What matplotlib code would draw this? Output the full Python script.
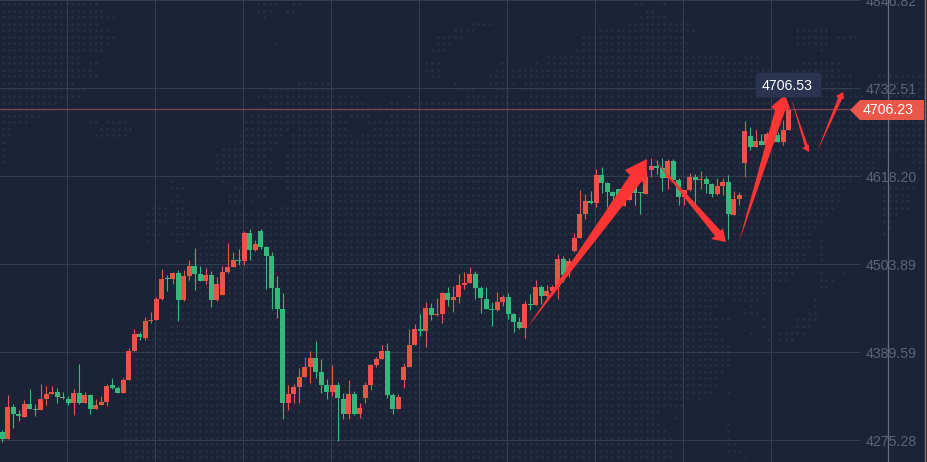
import matplotlib
matplotlib.use("Agg")
import matplotlib.pyplot as plt
import matplotlib.transforms as mtransforms
from matplotlib.patches import Polygon, FancyBboxPatch

plt.rcParams['font.family'] = ['Liberation Sans', 'DejaVu Sans']

# price data, one entry per candle
OPEN = [4286.0,4276.9,4318.5,4309.4,4305.5,4322.4,4315.9,4314.6,4328.9,4335.4,4338.0,4331.5,4328.9,4323.7,4336.7,4323.7,
        4334.1,4315.9,4321.1,4325.0,4347.1,4343.2,4336.7,4353.6,4391.2,4413.3,4408.1,4430.2,4431.5,4458.8,4486.1,4484.8,
        4492.6,4457.5,4488.7,4501.6,4491.3,4482.2,4490.0,4457.5,4464.0,4493.9,4500.3,4509.4,4508.1,4544.5,4522.4,4547.1,
        4526.3,4514.6,4473.1,4445.8,4323.7,4335.4,4344.5,4357.5,4370.4,4382.1,4364.0,4347.1,4338.0,4347.1,4328.9,4309.4,
        4335.4,4309.4,4330.2,4347.1,4373.0,4380.8,4391.2,4334.1,4315.9,4353.6,4370.4,4399.0,4419.8,4417.2,4447.1,4438.0,
        4439.3,4466.6,4457.5,4461.4,4477.0,4479.6,4491.3,4473.1,4458.8,4445.8,4444.5,4454.9,4461.4,4439.3,4428.9,4421.1,
        4452.3,4451.0,4474.4,4462.7,4469.2,4474.4,4510.8,4494.3,4521.2,4538.1,4569.2,4586.1,4583.5,4619.9,4609.5,4597.8,
        4601.3,4579.6,4587.4,4606.9,4597.8,4595.2,4626.4,4631.6,4629.0,4616.0,4638.1,4613.4,4591.3,4600.4,4617.3,4613.8,
        4614.7,4608.2,4595.2,4605.6,4610.8,4567.9,4588.7,4635.5,4670.6,4656.3,4664.1,4658.9,4662.8,4671.9,4662.8,4678.4]
CLOSE = [4276.9,4318.5,4309.4,4306.8,4322.4,4315.9,4314.6,4328.9,4335.4,4338.0,4331.5,4330.2,4323.7,4336.7,4323.7,4334.1,
         4315.9,4321.1,4325.0,4345.8,4343.2,4336.7,4353.6,4391.2,4413.3,4409.4,4430.2,4431.5,4458.8,4484.8,4484.8,4492.6,
         4457.5,4488.7,4501.6,4491.3,4482.2,4490.0,4457.5,4478.3,4493.9,4500.3,4509.4,4508.1,4544.5,4522.4,4530.2,4526.3,
         4514.6,4473.1,4445.8,4323.7,4335.4,4344.5,4357.5,4370.4,4382.1,4364.0,4347.1,4338.0,4347.1,4330.2,4309.4,4335.4,
         4309.4,4317.2,4347.1,4373.0,4380.8,4391.2,4334.1,4315.9,4331.5,4370.4,4399.0,4419.8,4417.2,4447.1,4438.0,4439.3,
         4466.6,4457.5,4461.4,4477.0,4479.6,4491.3,4473.1,4460.1,4445.8,4444.5,4454.9,4461.4,4439.3,4428.9,4421.1,4452.3,
         4451.0,4474.4,4462.7,4469.2,4474.4,4510.7,4490.0,4508.2,4538.1,4569.2,4586.1,4583.5,4619.9,4609.5,4597.8,4592.6,
         4592.6,4591.8,4606.9,4596.5,4596.5,4617.7,4631.6,4629.0,4616.0,4638.1,4613.4,4591.3,4600.4,4617.3,4613.4,4614.7,
         4608.2,4595.2,4605.6,4610.8,4569.2,4588.7,4593.9,4677.1,4656.3,4664.1,4658.9,4673.2,4673.2,4662.8,4678.4,4706.23]
HIGH = [4288.6,4334.1,4322.4,4314.2,4327.1,4341.9,4322.4,4348.4,4345.8,4345.8,4343.2,4338.0,4332.8,4341.9,4374.3,4338.0,
        4335.4,4328.9,4332.8,4348.4,4356.2,4345.8,4356.2,4395.1,4419.8,4415.9,4435.4,4441.9,4461.4,4497.7,4490.0,4493.9,
        4496.4,4496.4,4509.4,4525.0,4501.6,4499.0,4495.2,4487.4,4501.6,4531.5,4519.8,4523.7,4547.1,4549.7,4535.4,4549.7,
        4527.6,4519.8,4488.7,4466.6,4347.1,4348.4,4369.1,4383.4,4391.2,4404.2,4380.8,4354.9,4373.0,4351.0,4336.7,4353.6,
        4339.3,4323.7,4351.0,4374.3,4383.4,4399.0,4401.6,4336.7,4335.4,4375.6,4419.8,4426.3,4439.3,4454.9,4453.6,4460.1,
        4467.9,4474.4,4475.7,4491.3,4493.9,4500.3,4495.2,4475.7,4474.4,4454.9,4467.9,4464.0,4466.6,4440.6,4435.4,4456.2,
        4465.3,4483.5,4477.0,4477.0,4477.0,4517.2,4514.7,4511.7,4544.1,4600.4,4595.2,4599.1,4627.7,4630.3,4610.8,4599.1,
        4601.3,4601.3,4613.4,4613.4,4597.8,4626.4,4642.0,4639.4,4642.0,4640.7,4640.7,4616.0,4600.4,4622.5,4621.2,4625.1,
        4618.6,4609.5,4616.0,4616.0,4619.9,4599.1,4597.8,4690.1,4682.3,4678.4,4673.2,4675.8,4675.8,4675.8,4691.3,4706.53]
LOW = [4273.5,4276.9,4291.2,4300.3,4305.5,4315.9,4306.8,4314.6,4321.1,4335.4,4323.7,4328.9,4321.1,4308.1,4322.4,4323.7,
       4309.4,4315.9,4321.1,4319.8,4341.9,4336.7,4336.7,4353.6,4391.2,4405.5,4405.5,4427.6,4431.5,4457.5,4469.2,4478.3,
       4430.2,4456.2,4483.5,4470.5,4482.2,4478.3,4448.4,4456.2,4464.0,4492.6,4500.3,4502.9,4502.9,4509.4,4521.1,4523.7,
       4471.8,4445.8,4434.1,4302.9,4314.6,4323.7,4323.7,4357.5,4349.7,4356.2,4336.7,4328.9,4332.8,4274.3,4302.9,4302.9,
       4308.1,4304.2,4323.7,4340.6,4370.4,4380.8,4330.2,4309.4,4315.9,4343.2,4370.4,4399.0,4410.7,4396.4,4431.5,4436.7,
       4427.6,4449.7,4441.9,4453.6,4471.8,4479.6,4458.8,4440.6,4445.8,4423.7,4443.2,4449.7,4432.8,4415.9,4419.8,4408.1,
       4444.5,4451.0,4452.3,4457.5,4464.0,4458.8,4481.3,4487.8,4520.3,4537.6,4562.7,4582.2,4578.3,4596.1,4577.9,4578.8,
       4574.4,4579.6,4587.4,4580.9,4569.2,4595.2,4617.7,4621.2,4599.1,4601.7,4613.4,4580.9,4580.9,4599.1,4582.2,4601.7,
       4596.5,4591.3,4593.9,4593.9,4536.8,4567.9,4580.9,4617.3,4652.4,4656.3,4658.9,4658.9,4658.9,4662.8,4658.9,4678.4]

PRICE_TICKS = [4846.82, 4732.51, 4618.20, 4503.89, 4389.59, 4275.28]
LAST_PRICE = 4706.23
MAX_PRICE = 4706.53

# faint world map behind the chart: dot row -> x spans in pixels
MAP_ROWS = [
    [(0,97),(260,275),(290,297),(635,640),(665,665)],
    [(0,100),(260,272),(288,295),(648,655)],
    [(0,112),(265,265),(640,665)],
    [(0,97),(475,490),(628,690)],
    [(0,107),(455,475),(600,695),(800,825)],
    [(0,112),(440,460),(580,680),(800,825),(840,855)],
    [(0,107),(277,277),(440,450),(580,688),(800,825)],
    [(0,102),(430,443),(575,685),(818,818)],
    [(0,80),(505,505),(550,720),(743,757)],
    [(0,80),(88,95),(425,435),(500,510),(535,535),(550,757),(805,835)],
    [(0,90),(425,437),(495,512),(520,770),(790,840)],
    [(0,97),(430,437),(490,512),(520,760),(800,850),(880,925)],
    [(0,75),(300,330),(455,455),(490,512),(522,760),(825,850),(880,925)],
    [(0,85),(272,335),(460,470),(495,510),(525,850),(880,925)],
    [(0,78),(258,355),(408,408),(465,485),(497,510),(528,528),(535,860),(885,925)],
    [(0,55),(270,365),(390,398),(412,925)],
    [(0,45),(255,925)],
    [(0,38),(253,340),(350,368),(390,925)],
    [(0,28),(88,95),(105,123),(247,345),(370,925)],
    [(0,8),(100,130),(247,285),(300,345),(372,925)],
    [(0,8),(98,123),(242,283),(295,350),(360,925)],
    [(0,3),(240,278),(290,925)],
    [(0,3),(225,270),(290,925)],
    [(0,3),(220,265),(288,885),(900,925)],
    [(0,3),(220,270),(288,873),(915,925)],
    [(220,272),(288,873),(920,920)],
    [(222,272),(288,860)],
    [(172,172),(225,225),(247,265),(288,850)],
    [(168,180),(235,240),(247,265),(288,845),(885,912)],
    [(175,175),(230,235),(255,265),(290,840),(882,910)],
    [(168,180),(230,240),(253,253),(290,835),(882,908)],
    [(155,165),(178,185),(270,270),(282,830),(882,907)],
    [(150,163),(178,190),(225,825),(882,895)],
    [(150,163),(178,195),(213,820),(882,888)],
    [(150,150),(175,195),(213,815),(888,888)],
    [(150,160),(173,190),(198,810),(882,882)],
    [(150,150),(178,185),(205,808),(820,820)],
    [(198,808),(820,820)],
    [(195,805),(820,820)],
    [(193,803),(820,820)],
    [(193,798)],
    [(190,792),(820,820),(842,842)],
    [(190,785),(818,832)],
    [(197,765),(818,825)],
    [(197,765)],
    [(190,722),(732,757),(813,813)],
    [(170,718),(750,750),(813,813)],
    [(168,712),(745,757),(808,813)],
    [(168,725),(760,765),(797,813)],
    [(168,718),(760,765),(797,808)],
    [(150,718),(752,752),(780,803)],
    [(150,722),(768,768),(778,793)],
    [(150,725)],
    [(138,728),(768,768)],
    [(138,728)],
    [(138,728)],
    [(125,722)],
    [(125,718)],
    [(125,717)],
    [(125,712),(728,728)],
    [(122,690),(700,700)],
    [(122,682)],
    [(122,660)],
    [(122,655),(677,677)],
    [(122,660),(728,728)],
    [(122,665),(728,728)],
    [(122,672),(725,730)],
    [(122,672),(728,735)],
    [(122,672),(728,740)],
    [(122,670),(745,745)],
]

# hand drawn red arrows, in pixels: tail, notch, barb, tip, barb, notch
ARROWS = [
    [(527,328),(630,175),(625,170),(647,159),(646,186),(642,181)],
    [(653,158),(715,236),(711,239),(726,242),(723,228),(721,231)],
    [(739,242),(775,110),(771,107),(785,95),(790,108),(785,111)],
    [(791,98),(805,147),(802,148),(809,152),(809,144),(808,146)],
    [(817,152),(838,98),(836,96),(843,92),(844,99),(842,99)],
]

BG = '#1c2336'
RED = '#ec5347'
GREEN = '#35b87c'
GRID = '#363d50'
TICK = '#5d6474'

W, H = 927, 462
fig = plt.figure(figsize=(W / 100, H / 100), dpi=100, facecolor=BG)
ax = fig.add_axes([0, 0, 1, 1], facecolor=BG)

# one candle is 5.5 px wide, first one centred at 2.33 px
ax.set_xlim(-2.33 / 5.5, (W - 2.33) / 5.5)
# 88 px between two price ticks, 4275.28 sits at y=440.3 px
per_px = (PRICE_TICKS[4] - PRICE_TICKS[5]) / 88
ax.set_ylim(PRICE_TICKS[5] - (H - 440.3) * per_px, PRICE_TICKS[5] + 440.3 * per_px)
ax.axis('off')

# pixel coordinates, y going down
px = mtransforms.Affine2D().scale(1, -1).translate(0, H)

# background map
dots_x, dots_y = [], []
for r, spans in enumerate(MAP_ROWS):
    for x0, x1 in spans:
        k0 = int(round((x0 - 2.7) / 5.8))
        k1 = int(round((x1 - 2.7) / 5.8))
        for k in range(max(k0, 0), k1 + 1):
            dots_x.append(2.7 + 5.8 * k)
            dots_y.append(4 + 6.57 * r)
ax.scatter(dots_x, dots_y, s=4.2, color='#282f43', linewidths=0, transform=px, zorder=1)

# grid
x = list(range(len(OPEN)))
for k in range(9):
    ax.axvline(11.81 + 16 * k, color=GRID, lw=0.75, zorder=2)
for p in PRICE_TICKS:
    ax.plot([-1, 156], [p, p], color=GRID, lw=0.75, zorder=2)
ax.plot([888.3, 888.3], [0, H], color='#666d80', lw=0.9, transform=px, zorder=2)
ax.plot([924.5, 924.5], [0, H], color='#c8601f', lw=1.0, transform=px, zorder=2)

# candles
colors = [RED if c >= o else GREEN for o, c in zip(OPEN, CLOSE)]
ax.vlines(x, LOW, HIGH, colors=colors, lw=0.8, zorder=3)
bottoms = [min(o, c) for o, c in zip(OPEN, CLOSE)]
heights = [max(abs(c - o), 1.0) for o, c in zip(OPEN, CLOSE)]
ax.bar(x, heights, bottom=bottoms, width=5 / 5.5, color=colors, linewidth=0, zorder=3)

# last price line
ax.plot([-1, 154], [LAST_PRICE, LAST_PRICE], color='#7d4650', lw=0.9, zorder=4)

for pts in ARROWS:
    ax.add_patch(Polygon(pts, closed=True, facecolor='#ff3535', edgecolor='none', transform=px, zorder=5))

# price labels
for p in PRICE_TICKS:
    y_px = 440.3 - (p - PRICE_TICKS[5]) / per_px
    ax.text(866, y_px + 2, '%.2f' % p, color=TICK, fontsize=10.2, va='center', ha='left', transform=px, zorder=6)

# tooltip of the highest price
ax.add_patch(FancyBboxPatch((757, 74), 63, 22, boxstyle='round,pad=0,rounding_size=2', mutation_scale=1,
                            facecolor='#2a3450', edgecolor='#2a3450', lw=2, transform=px, zorder=6))
ax.text(787.5, 86, '%.2f' % MAX_PRICE, color='white', fontsize=10.2, va='center', ha='center', transform=px, zorder=7)

# current price flag
ax.add_patch(Polygon([(850, 110), (860, 100), (924, 100), (924, 120), (860, 120)], closed=True,
                     facecolor='#e8574a', edgecolor='none', transform=px, zorder=6))
ax.text(888, 110.5, '%.2f' % LAST_PRICE, color='white', fontsize=10.2, va='center', ha='center', transform=px, zorder=7)

fig.savefig('out.png', dpi=100, facecolor=BG)
